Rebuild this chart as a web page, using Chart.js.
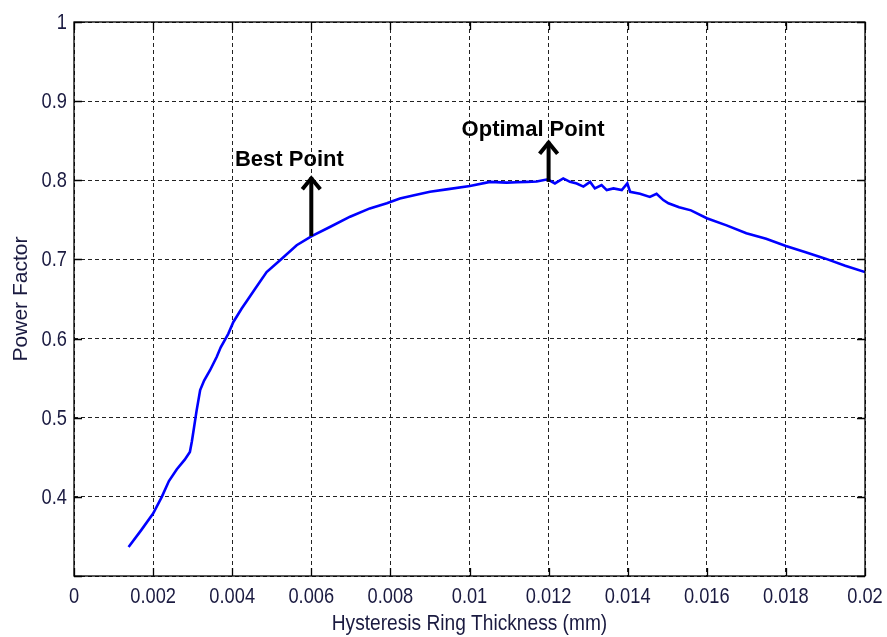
<!DOCTYPE html>
<html>
<head>
<meta charset="utf-8">
<script src="https://cdn.jsdelivr.net/npm/chart.js@4.4.0/dist/chart.umd.min.js"></script>
<style>
  html, body { margin: 0; padding: 0; background: #fff; }
  #wrap { width: 887px; height: 637px; }
</style>
</head>
<body>
<div id="wrap"><canvas id="c" width="887" height="637"></canvas></div>
<script>
// ---- data ----
const thickness = [0.00138,0.0017,0.0020,0.00222,0.0024,0.0026,0.0028,0.00293,0.00298,0.00303,0.0031,0.00319,0.00329,0.00344,0.00361,0.00371,0.0039,0.00403,0.00424,0.00437,0.00458,0.00487,0.00521,0.00563,0.00601,0.00647,0.00698,0.00748,0.00791,0.00824,0.0086,0.009,0.00942,0.01001,0.01052,0.01094,0.0112,0.01145,0.0117,0.01195,0.01204,0.01216,0.01237,0.01254,0.01271,0.01288,0.01305,0.01317,0.01334,0.01347,0.01364,0.01385,0.01399,0.01406,0.01431,0.01456,0.01473,0.0149,0.01503,0.0153,0.0156,0.016,0.0165,0.017,0.0175,0.018,0.0185,0.019,0.0195,0.02];
const powerFactor = [0.3367,0.358,0.3789,0.400,0.420,0.435,0.447,0.4568,0.470,0.486,0.509,0.535,0.547,0.560,0.577,0.589,0.606,0.621,0.638,0.6476,0.663,0.684,0.699,0.718,0.7295,0.741,0.754,0.7645,0.771,0.777,0.781,0.7855,0.7885,0.7927,0.798,0.797,0.7975,0.798,0.7985,0.801,0.7994,0.796,0.8024,0.798,0.796,0.792,0.798,0.7897,0.794,0.7876,0.7897,0.7876,0.796,0.7855,0.783,0.779,0.783,0.775,0.771,0.766,0.762,0.752,0.743,0.733,0.726,0.717,0.709,0.701,0.692,0.684];

const xTickLabels = ['0','0.002','0.004','0.006','0.008','0.01','0.012','0.014','0.016','0.018','0.02'];
const yTickLabels = ['','0.4','0.5','0.6','0.7','0.8','0.9','1'];

// annotation arrows (data coordinates)
const arrowX    = [0.006, 0.012];
const arrowFrom = [0.7295, 0.798];
const arrowTo   = [0.805, 0.850];
// annotation texts (data coordinates, left/baseline)
const noteText = ['Best Point', 'Optimal Point'];
const noteX    = [0.00407, 0.00980];
const noteY    = [0.818, 0.856];

const xTitle = 'Hysteresis Ring Thickness (mm)';
const yTitle = 'Power Factor';

// ---- chart ----
const points = thickness.map((x, i) => ({ x: x, y: powerFactor[i] }));
const SANS = '"Liberation Sans", Arial, sans-serif';
const LABEL_COLOR = '#1a1a40';

function narrowText(ctx, text, x, y, align, squeeze) {
  ctx.save();
  ctx.translate(x, y);
  ctx.scale(squeeze, 1);
  ctx.textAlign = align;
  ctx.fillText(text, 0, 0);
  ctx.restore();
}

const boxPlugin = {
  id: 'boxPlugin',
  afterDraw(chart) {
    const ctx = chart.ctx;
    const a = chart.chartArea;
    const xs = chart.scales.x, ys = chart.scales.y;
    ctx.save();
    ctx.setLineDash([]);
    ctx.strokeStyle = '#000';
    ctx.lineWidth = 1.3;
    ctx.strokeRect(a.left, a.top, a.right - a.left, a.bottom - a.top);
    const tl = 8;
    ctx.beginPath();
    xs.ticks.forEach(t => {
      const px = Math.round(xs.getPixelForValue(t.value)) + 0.5;
      ctx.moveTo(px, a.bottom); ctx.lineTo(px, a.bottom - tl);
      ctx.moveTo(px, a.top); ctx.lineTo(px, a.top + tl);
    });
    ys.ticks.forEach(t => {
      const py = Math.round(ys.getPixelForValue(t.value)) + 0.5;
      ctx.moveTo(a.left, py); ctx.lineTo(a.left + tl, py);
      ctx.moveTo(a.right, py); ctx.lineTo(a.right - tl, py);
    });
    ctx.stroke();

    // tick labels
    ctx.fillStyle = LABEL_COLOR;
    ctx.font = '22px ' + SANS;
    ctx.textBaseline = 'alphabetic';
    xs.ticks.forEach((t, i) => {
      narrowText(ctx, xTickLabels[i], xs.getPixelForValue(t.value), a.bottom + 27, 'center', 0.83);
    });
    ctx.textBaseline = 'middle';
    ys.ticks.forEach((t, i) => {
      if (yTickLabels[i]) narrowText(ctx, yTickLabels[i], a.left - 7, ys.getPixelForValue(t.value) + 1, 'right', 0.83);
    });

    // axis titles
    ctx.textBaseline = 'alphabetic';
    ctx.font = '22px ' + SANS;
    narrowText(ctx, xTitle, (a.left + a.right) / 2, 630, 'center', 0.87);
    ctx.save();
    ctx.translate(27, (a.top + a.bottom) / 2);
    ctx.rotate(-Math.PI / 2);
    ctx.font = '21px ' + SANS;
    ctx.textAlign = 'center';
    ctx.fillText(yTitle, 0, 0);
    ctx.restore();

    // arrows
    ctx.strokeStyle = '#000';
    ctx.lineWidth = 4;
    ctx.lineCap = 'butt';
    ctx.lineJoin = 'miter';
    arrowX.forEach((xv, i) => {
      const px = xs.getPixelForValue(xv);
      const y0 = ys.getPixelForValue(arrowFrom[i]);
      const y1 = ys.getPixelForValue(arrowTo[i]);
      ctx.beginPath();
      ctx.moveTo(px, y0); ctx.lineTo(px, y1 + 1);
      ctx.stroke();
      ctx.beginPath();
      ctx.moveTo(px - 9, y1 + 13); ctx.lineTo(px, y1 + 2); ctx.lineTo(px + 9, y1 + 13);
      ctx.stroke();
    });

    // texts
    ctx.fillStyle = '#000';
    ctx.font = 'bold 22px ' + SANS;
    ctx.textAlign = 'left';
    ctx.textBaseline = 'alphabetic';
    noteText.forEach((t, i) => {
      ctx.fillText(t, xs.getPixelForValue(noteX[i]), ys.getPixelForValue(noteY[i]));
    });
    ctx.restore();
  }
};

new Chart(document.getElementById('c'), {
  type: 'line',
  data: {
    datasets: [{
      data: points,
      borderColor: '#0000ff',
      borderWidth: 2.6,
      pointRadius: 0,
      tension: 0,
      fill: false
    }]
  },
  options: {
    responsive: false,
    animation: false,
    events: [],
    layout: { padding: { left: 0, top: 22, right: 22, bottom: 0 } },
    plugins: { legend: { display: false }, tooltip: { enabled: false } },
    scales: {
      x: {
        type: 'linear',
        min: 0, max: 0.02,
        afterBuildTicks(scale) {
          scale.ticks = xTickLabels.map((l, i) => ({ value: i * 0.002 }));
        },
        afterFit(scale) { scale.height = 61; },
        ticks: { display: false },
        grid: { color: '#222', lineWidth: 1, drawTicks: false },
        border: { display: false, dash: [4, 3] }
      },
      y: {
        type: 'linear',
        min: 0.3, max: 1,
        afterBuildTicks(scale) {
          scale.ticks = yTickLabels.map((l, i) => ({ value: 0.3 + i * 0.1 }));
        },
        afterFit(scale) { scale.width = 74; },
        ticks: { display: false },
        grid: { color: '#222', lineWidth: 1, drawTicks: false },
        border: { display: false, dash: [4, 3] }
      }
    }
  },
  plugins: [boxPlugin]
});
</script>
</body>
</html>
